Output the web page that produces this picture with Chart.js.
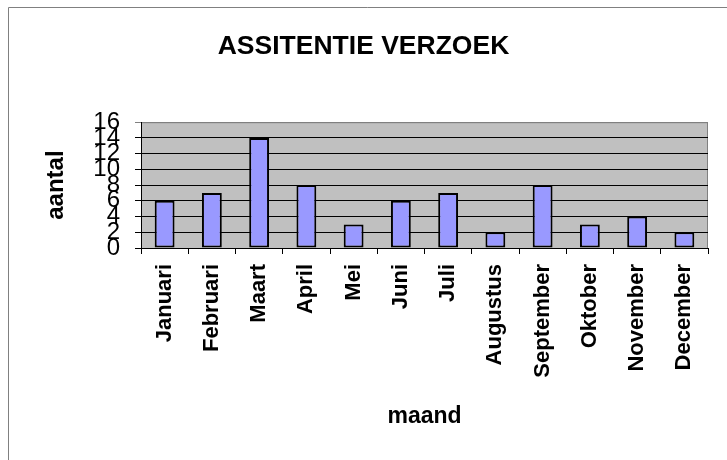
<!DOCTYPE html>
<html>
<head>
<meta charset="utf-8">
<script src="https://cdn.jsdelivr.net/npm/chart.js@4"></script>
<style>
  html, body { margin: 0; padding: 0; background: #fff; }
  #wrap { width: 727px; height: 460px; position: relative; }
</style>
</head>
<body>
<div id="wrap"><canvas id="chart"></canvas></div>
<script>
const months = ["Januari", "Februari", "Maart", "April", "Mei", "Juni", "Juli",
  "Augustus", "September", "Oktober", "November", "December"];
const aantal = [6, 7, 14, 8, 3, 6, 7, 2, 8, 3, 4, 2];
const yMin = 0;
const yMax = 16;
const yStep = 2;

const FONT = "'Liberation Sans', Arial, sans-serif";

// grey plot area + outer frame like the old Excel chart
const excelLook = {
  id: "excelLook",
  beforeDraw(chart) {
    const { ctx, chartArea: a } = chart;
    ctx.save();
    ctx.fillStyle = "#fff";
    ctx.fillRect(0, 0, chart.width, chart.height);
    ctx.strokeStyle = "#808080";
    ctx.lineWidth = 1;
    ctx.beginPath();
    ctx.moveTo(8.5, chart.height);
    ctx.lineTo(8.5, 7.5);
    ctx.lineTo(chart.width, 7.5);
    ctx.stroke();
    ctx.fillStyle = "#c0c0c0";
    ctx.fillRect(a.left, a.top, a.right - a.left, a.bottom - a.top);
    ctx.strokeStyle = "#808080";
    ctx.beginPath();
    ctx.moveTo(a.left, a.top + 0.5);
    ctx.lineTo(a.right - 0.5, a.top + 0.5);
    ctx.lineTo(a.right - 0.5, a.bottom);
    ctx.stroke();
    ctx.restore();
  }
};

new Chart(document.getElementById("chart"), {
  type: "bar",
  data: {
    labels: months,
    datasets: [{
      data: aantal,
      backgroundColor: "#9999ff",
      borderColor: "#000",
      borderWidth: 2,
      borderSkipped: false,
      barPercentage: 0.42,
      categoryPercentage: 1
    }]
  },
  options: {
    responsive: true,
    maintainAspectRatio: false,
    animation: false,
    layout: { padding: { left: 19, right: 19, top: 0, bottom: 0 } },
    plugins: {
      legend: { display: false },
      tooltip: { enabled: false },
      title: {
        display: true,
        text: "ASSITENTIE VERZOEK",
        color: "#000",
        font: { family: FONT, size: 26.5, weight: "bold", lineHeight: 1.2 },
        padding: { top: 31, bottom: 59.4 }
      }
    },
    scales: {
      x: {
        afterFit(scale) { scale.height = 212; },
        grid: { drawOnChartArea: false, drawTicks: true, tickLength: 6, color: "#000", offset: true },
        border: { display: true, color: "#000", width: 1 },
        ticks: {
          autoSkip: false,
          minRotation: 90,
          maxRotation: 90,
          padding: 10,
          color: "#000",
          font: { family: FONT, size: 22, weight: "bold" }
        },
        title: {
          display: true,
          text: "maand",
          color: "#000",
          font: { family: FONT, size: 23, weight: "bold", lineHeight: 1.2 },
          padding: { top: 0, bottom: 30 }
        }
      },
      y: {
        min: yMin,
        max: yMax,
        afterFit(scale) { scale.width = 122; },
        grid: {
          tickLength: 6,
          color: (c) => (c.tick && c.tick.value === yMax ? "#808080" : "#000")
        },
        border: { display: true, color: "#000", width: 1 },
        ticks: {
          stepSize: yStep,
          autoSkip: false,
          padding: 15,
          color: "#000",
          font: { family: FONT, size: 24, lineHeight: 1 }
        },
        title: {
          display: true,
          text: "aantal",
          color: "#000",
          font: { family: FONT, size: 24, weight: "bold", lineHeight: 1.2 },
          padding: { top: 23, bottom: 0 }
        }
      }
    }
  },
  plugins: [excelLook]
});
</script>
</body>
</html>
